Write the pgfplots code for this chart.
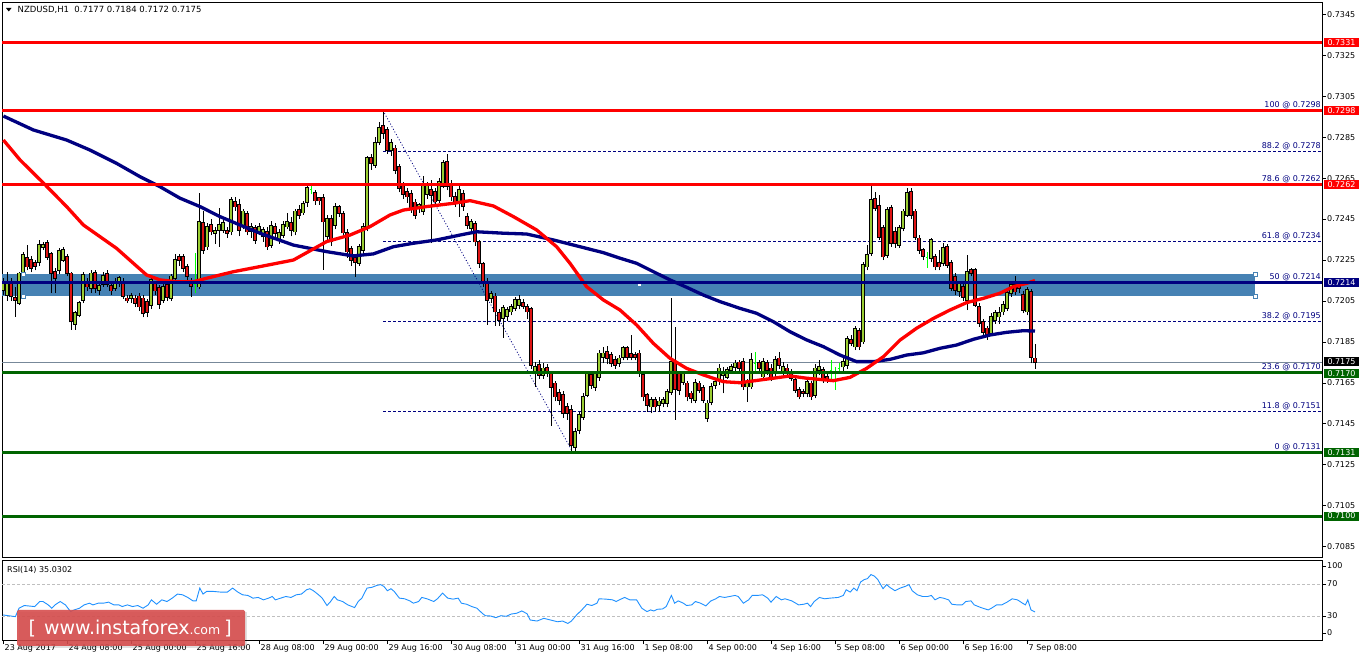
\documentclass[border=0pt]{standalone}
\usepackage{pgfplots}
\pgfplotsset{compat=1.18}
\usepackage{pgfplotstable}
\usepackage{fontspec}
\setmainfont{DejaVu Sans}

\definecolor{mtred}{RGB}{255,0,0}
\definecolor{mtnavy}{RGB}{0,0,128}
\definecolor{mtgreen}{RGB}{0,100,0}
\definecolor{bull}{RGB}{154,205,50}
\definecolor{bear}{RGB}{222,20,20}
\definecolor{doji}{RGB}{0,255,0}
\definecolor{band}{RGB}{70,130,180}
\definecolor{pricegray}{RGB}{119,136,153}
\definecolor{rsiblue}{RGB}{30,144,255}
\definecolor{wmred}{RGB}{214,78,78}

\newcommand{\sm}{\fontsize{8bp}{9.6bp}\selectfont}

% NZDUSD H1 candles: index, open, high, low, close
\pgfplotstableread{
i o h l c
0 0.72104 0.72160 0.72080 0.72137
1 0.72080 0.72190 0.72050 0.72140
2 0.72145 0.72160 0.72050 0.72072
3 0.72065 0.72120 0.71974 0.72055
4 0.72040 0.72190 0.72030 0.72185
5 0.72185 0.72290 0.72170 0.72275
6 0.72259 0.72324 0.72200 0.72218
7 0.72250 0.72270 0.72190 0.72210
8 0.72235 0.72250 0.72200 0.72222
9 0.72238 0.72348 0.72220 0.72324
10 0.72313 0.72340 0.72300 0.72324
11 0.72332 0.72348 0.72250 0.72264
12 0.72280 0.72290 0.72088 0.72185
13 0.72194 0.72210 0.72088 0.72161
14 0.72199 0.72310 0.72180 0.72295
15 0.72251 0.72316 0.72240 0.72300
16 0.72267 0.72280 0.72170 0.72185
17 0.72185 0.72190 0.71910 0.71950
18 0.71938 0.72000 0.71910 0.71990
19 0.71982 0.72050 0.71970 0.72039
20 0.72055 0.72190 0.72040 0.72177
21 0.72137 0.72160 0.72100 0.72120
22 0.72112 0.72200 0.72090 0.72185
23 0.72189 0.72200 0.72090 0.72112
24 0.72104 0.72140 0.72080 0.72124
25 0.72132 0.72190 0.72120 0.72172
26 0.72182 0.72200 0.72120 0.72134
27 0.72124 0.72140 0.72080 0.72101
28 0.72112 0.72160 0.72100 0.72145
29 0.72137 0.72170 0.72120 0.72161
30 0.72145 0.72160 0.72060 0.72075
31 0.72063 0.72080 0.72040 0.72052
32 0.72063 0.72090 0.72040 0.72075
33 0.72063 0.72080 0.72020 0.72040
34 0.72072 0.72090 0.72000 0.72023
35 0.72063 0.72080 0.71970 0.71990
36 0.72047 0.72060 0.71970 0.71997
37 0.72031 0.72170 0.72010 0.72153
38 0.72137 0.72150 0.72080 0.72101
39 0.72112 0.72130 0.72010 0.72036
40 0.72055 0.72140 0.72040 0.72120
41 0.72130 0.72150 0.72050 0.72070
42 0.72063 0.72180 0.72050 0.72170
43 0.72161 0.72280 0.72150 0.72251
44 0.72267 0.72280 0.72220 0.72251
45 0.72264 0.72280 0.72190 0.72210
46 0.72218 0.72230 0.72150 0.72170
47 0.72140 0.72160 0.72070 0.72124
48 0.72133 0.72283 0.72090 0.72133
49 0.72120 0.72576 0.72110 0.72438
50 0.72430 0.72490 0.72280 0.72300
51 0.72316 0.72430 0.72300 0.72413
52 0.72422 0.72450 0.72370 0.72389
53 0.72381 0.72410 0.72330 0.72392
54 0.72397 0.72503 0.72316 0.72422
55 0.72397 0.72450 0.72380 0.72430
56 0.72394 0.72410 0.72360 0.72381
57 0.72389 0.72560 0.72370 0.72544
58 0.72535 0.72560 0.72490 0.72511
59 0.72519 0.72547 0.72365 0.72397
60 0.72422 0.72500 0.72400 0.72487
61 0.72475 0.72490 0.72370 0.72389
62 0.72390 0.72430 0.72360 0.72410
63 0.72405 0.72420 0.72330 0.72348
64 0.72384 0.72430 0.72370 0.72410
65 0.72365 0.72410 0.72340 0.72397
66 0.72389 0.72410 0.72300 0.72316
67 0.72324 0.72440 0.72310 0.72417
68 0.72413 0.72430 0.72360 0.72381
69 0.72352 0.72400 0.72330 0.72381
70 0.72373 0.72440 0.72360 0.72422
71 0.72413 0.72480 0.72400 0.72438
72 0.72430 0.72460 0.72365 0.72397
73 0.72389 0.72500 0.72370 0.72487
74 0.72495 0.72520 0.72450 0.72470
75 0.72482 0.72540 0.72470 0.72524
76 0.72531 0.72620 0.72510 0.72601
77 0.72595 0.72615 0.72570 0.72595
78 0.72579 0.72590 0.72520 0.72540
79 0.72552 0.72560 0.72520 0.72540
80 0.72552 0.72570 0.72202 0.72438
81 0.72365 0.72470 0.72340 0.72449
82 0.72449 0.72470 0.72320 0.72340
83 0.72422 0.72530 0.72400 0.72511
84 0.72508 0.72520 0.72460 0.72479
85 0.72475 0.72490 0.72360 0.72384
86 0.72381 0.72400 0.72260 0.72291
87 0.72303 0.72320 0.72220 0.72251
88 0.72259 0.72270 0.72169 0.72238
89 0.72234 0.72330 0.72220 0.72316
90 0.72300 0.72430 0.72280 0.72413
91 0.72405 0.72760 0.72390 0.72747
92 0.72747 0.72770 0.72690 0.72723
93 0.72715 0.72850 0.72700 0.72820
94 0.72824 0.72925 0.72810 0.72894
95 0.72905 0.72983 0.72840 0.72869
96 0.72885 0.72900 0.72770 0.72788
97 0.72788 0.72840 0.72760 0.72820
98 0.72795 0.72810 0.72670 0.72690
99 0.72706 0.72720 0.72580 0.72601
100 0.72612 0.72630 0.72550 0.72573
101 0.72584 0.72600 0.72530 0.72560
102 0.72573 0.72590 0.72480 0.72498
103 0.72531 0.72550 0.72450 0.72470
104 0.72503 0.72530 0.72480 0.72518
105 0.72487 0.72660 0.72470 0.72612
106 0.72573 0.72630 0.72550 0.72612
107 0.72592 0.72640 0.72332 0.72568
108 0.72584 0.72600 0.72510 0.72535
109 0.72544 0.72650 0.72530 0.72633
110 0.72612 0.72740 0.72600 0.72723
111 0.72731 0.72770 0.72590 0.72612
112 0.72612 0.72640 0.72540 0.72560
113 0.72560 0.72580 0.72510 0.72535
114 0.72540 0.72610 0.72460 0.72592
115 0.72573 0.72590 0.72490 0.72514
116 0.72462 0.72480 0.72400 0.72422
117 0.72405 0.72450 0.72380 0.72438
118 0.72426 0.72440 0.72320 0.72340
119 0.72340 0.72350 0.72210 0.72234
120 0.72231 0.72240 0.72120 0.72145
121 0.72145 0.72160 0.71933 0.72055
122 0.72063 0.72100 0.72040 0.72085
123 0.72072 0.72090 0.71930 0.71998
124 0.71990 0.72010 0.71930 0.71958
125 0.71966 0.72030 0.71870 0.72015
126 0.71977 0.72020 0.71950 0.72006
127 0.71998 0.72035 0.71980 0.72020
128 0.72015 0.72070 0.72000 0.72055
129 0.72031 0.72080 0.72010 0.72055
130 0.72039 0.72060 0.72010 0.72026
131 0.72020 0.72035 0.71960 0.71998
132 0.72011 0.72020 0.71720 0.71737
133 0.71696 0.71750 0.71631 0.71729
134 0.71737 0.71760 0.71670 0.71688
135 0.71688 0.71745 0.71670 0.71721
136 0.71725 0.71740 0.71680 0.71705
137 0.71693 0.71710 0.71440 0.71631
138 0.71648 0.71660 0.71560 0.71583
139 0.71602 0.71620 0.71540 0.71566
140 0.71591 0.71610 0.71480 0.71501
141 0.71534 0.71550 0.71470 0.71501
142 0.71520 0.71540 0.71310 0.71347
143 0.71338 0.71430 0.71310 0.71412
144 0.71420 0.71510 0.71400 0.71493
145 0.71485 0.71600 0.71470 0.71583
146 0.71591 0.71710 0.71580 0.71696
147 0.71688 0.71710 0.71620 0.71640
148 0.71631 0.71710 0.71610 0.71696
149 0.71680 0.71810 0.71660 0.71794
150 0.71778 0.71827 0.71745 0.71794
151 0.71802 0.71830 0.71740 0.71770
152 0.71786 0.71800 0.71730 0.71745
153 0.71762 0.71780 0.71720 0.71737
154 0.71745 0.71785 0.71730 0.71770
155 0.71778 0.71830 0.71760 0.71819
156 0.71819 0.71830 0.71760 0.71778
157 0.71790 0.71884 0.71760 0.71778
158 0.71786 0.71800 0.71760 0.71775
159 0.71794 0.71810 0.71680 0.71696
160 0.71688 0.71700 0.71560 0.71583
161 0.71591 0.71600 0.71509 0.71542
162 0.71534 0.71580 0.71501 0.71566
163 0.71566 0.71580 0.71510 0.71534
164 0.71542 0.71580 0.71510 0.71560
165 0.71550 0.71580 0.71530 0.71566
166 0.71550 0.71620 0.71530 0.71607
167 0.71607 0.72063 0.71590 0.71753
168 0.71750 0.71924 0.71469 0.71620
169 0.71696 0.71710 0.71590 0.71615
170 0.71656 0.71710 0.71640 0.71696
171 0.71648 0.71660 0.71560 0.71583
172 0.71599 0.71610 0.71550 0.71575
173 0.71566 0.71670 0.71550 0.71652
174 0.71648 0.71660 0.71600 0.71615
175 0.71627 0.71640 0.71550 0.71566
176 0.71477 0.71566 0.71460 0.71550
177 0.71558 0.71650 0.71540 0.71631
178 0.71640 0.71670 0.71620 0.71656
179 0.71664 0.71740 0.71640 0.71721
180 0.71688 0.71730 0.71599 0.71705
181 0.71680 0.71730 0.71670 0.71713
182 0.71713 0.71740 0.71700 0.71729
183 0.71729 0.71760 0.71710 0.71745
184 0.71750 0.71760 0.71700 0.71721
185 0.71754 0.71770 0.71616 0.71632
186 0.71632 0.71670 0.71559 0.71648
187 0.71632 0.71795 0.71620 0.71762
188 0.71746 0.71800 0.71710 0.71746
189 0.71746 0.71760 0.71700 0.71721
190 0.71681 0.71770 0.71660 0.71754
191 0.71746 0.71760 0.71690 0.71713
192 0.71721 0.71740 0.71660 0.71673
193 0.71697 0.71780 0.71680 0.71762
194 0.71770 0.71800 0.71720 0.71738
195 0.71705 0.71750 0.71690 0.71730
196 0.71721 0.71740 0.71680 0.71697
197 0.71705 0.71720 0.71660 0.71673
198 0.71664 0.71680 0.71600 0.71616
199 0.71616 0.71630 0.71570 0.71583
200 0.71608 0.71620 0.71580 0.71599
201 0.71599 0.71670 0.71580 0.71656
202 0.71648 0.71660 0.71567 0.71583
203 0.71591 0.71740 0.71575 0.71721
204 0.71713 0.71762 0.71690 0.71729
205 0.71713 0.71730 0.71650 0.71664
206 0.71681 0.71700 0.71650 0.71664
207 0.71713 0.71762 0.71664 0.71713
208 0.71697 0.71730 0.71616 0.71697
209 0.71721 0.71746 0.71697 0.71721
210 0.71730 0.71770 0.71710 0.71754
211 0.71738 0.71880 0.71720 0.71863
212 0.71860 0.71884 0.71830 0.71844
213 0.71827 0.71930 0.71810 0.71912
214 0.71905 0.71920 0.71810 0.71827
215 0.71852 0.72240 0.71840 0.72226
216 0.72218 0.72324 0.72200 0.72275
217 0.72283 0.72617 0.72270 0.72543
218 0.72547 0.72584 0.72490 0.72503
219 0.72514 0.72568 0.72350 0.72364
220 0.72405 0.72420 0.72250 0.72267
221 0.72275 0.72510 0.72260 0.72495
222 0.72503 0.72520 0.72316 0.72332
223 0.72389 0.72410 0.72310 0.72332
224 0.72324 0.72420 0.72310 0.72405
225 0.72405 0.72500 0.72390 0.72487
226 0.72470 0.72600 0.72460 0.72576
227 0.72584 0.72600 0.72450 0.72470
228 0.72487 0.72500 0.72350 0.72364
229 0.72356 0.72370 0.72280 0.72299
230 0.72299 0.72310 0.72250 0.72270
231 0.72264 0.72290 0.72210 0.72264
232 0.72259 0.72360 0.72240 0.72348
233 0.72267 0.72280 0.72200 0.72218
234 0.72234 0.72300 0.72200 0.72218
235 0.72234 0.72332 0.72220 0.72308
236 0.72316 0.72330 0.72210 0.72226
237 0.72234 0.72250 0.72100 0.72112
238 0.72169 0.72185 0.72080 0.72104
239 0.72100 0.72150 0.72070 0.72137
240 0.72120 0.72140 0.72050 0.72071
241 0.72055 0.72275 0.72006 0.72194
242 0.72202 0.72210 0.72170 0.72185
243 0.72202 0.72210 0.72020 0.72031
244 0.72023 0.72040 0.71925 0.71941
245 0.71949 0.71960 0.71884 0.71900
246 0.71916 0.71930 0.71860 0.71884
247 0.71892 0.71990 0.71880 0.71974
248 0.71957 0.72006 0.71940 0.71990
249 0.71974 0.72023 0.71940 0.71990
250 0.71998 0.72050 0.71980 0.72031
251 0.72015 0.72104 0.72000 0.72088
252 0.72088 0.72145 0.72070 0.72128
253 0.72128 0.72170 0.72080 0.72096
254 0.72137 0.72150 0.72090 0.72112
255 0.72080 0.72100 0.71990 0.72006
256 0.71998 0.72120 0.71980 0.72104
257 0.72093 0.72110 0.71746 0.71778
258 0.71770 0.71840 0.71720 0.71750
}\candles

\begin{document}
\begin{tikzpicture}[x=1bp,y=1bp]

% ---------------- price panel ----------------
\begin{axis}[
  at={(2bp,104bp)}, anchor=south west,
  width=1320bp, height=555bp, scale only axis,
  xmin=-0.25, xmax=329.75, ymin=0.7080, ymax=0.7351,
  axis line style={black, line width=0.8bp},
  xtick=\empty,
  ytick={0.7085,0.7105,0.7125,0.7145,0.7165,0.7185,0.7205,0.7225,0.7245,0.7265,0.7285,0.7305,0.7325,0.7345},
  scaled y ticks=false,
  ytick pos=right, yticklabel pos=right, ytick align=outside,
  major tick length=4bp,
  tick style={black, line width=0.8bp},
  yticklabel style={font=\sm, anchor=west, inner sep=0pt, xshift=1bp},
  y tick label style={/pgf/number format/.cd, fixed, fixed zerofill, precision=4, assume math mode=true},
]
% rectangle zone
\fill[band] (axis cs:-0.25,0.72074) rectangle (axis cs:313,0.72182);

% fibonacci grid
\addplot[mtnavy, line width=0.8bp, dash pattern=on 3bp off 2bp, forget plot] coordinates {(95,0.7278) (329.75,0.7278)};
\addplot[mtnavy, line width=0.8bp, dash pattern=on 3bp off 2bp, forget plot] coordinates {(95,0.7234) (329.75,0.7234)};
\addplot[mtnavy, line width=0.8bp, dash pattern=on 3bp off 2bp, forget plot] coordinates {(95,0.7195) (329.75,0.7195)};
\addplot[mtnavy, line width=0.8bp, dash pattern=on 3bp off 2bp, forget plot] coordinates {(95,0.7151) (329.75,0.7151)};
\addplot[mtnavy, line width=0.8bp, dash pattern=on 1bp off 2bp, forget plot] coordinates {(95,0.7298) (142.5,0.7131)};

% bid line
\addplot[pricegray, line width=0.8bp, forget plot] coordinates {(-0.25,0.7175) (329.75,0.7175)};

% candles: wicks, body frames, bodies
\addplot[black, line width=0.8bp, restrict expr to domain={abs(\thisrow{c}-\thisrow{o})}{0.00001:1},
  quiver={u=0, v={\thisrow{h}-\thisrow{l}}}] table[x=i, y=l] {\candles};
\addplot[black, line width=3.2bp, restrict expr to domain={abs(\thisrow{c}-\thisrow{o})}{0.00001:1},
  quiver={u=0, v={abs(\thisrow{c}-\thisrow{o})+0.00008}}]
  table[x=i, y expr={min(\thisrow{o},\thisrow{c})-0.00004}] {\candles};
\addplot[bull, line width=1.5bp, restrict expr to domain={\thisrow{c}-\thisrow{o}}{0.00001:1},
  quiver={u=0, v={\thisrow{c}-\thisrow{o}}}] table[x=i, y=o] {\candles};
\addplot[bear, line width=1.5bp, restrict expr to domain={\thisrow{o}-\thisrow{c}}{0.00001:1},
  quiver={u=0, v={\thisrow{c}-\thisrow{o}}}] table[x=i, y=o] {\candles};
% doji crosses
\addplot[doji, line width=0.8bp, restrict expr to domain={abs(\thisrow{c}-\thisrow{o})}{0:0.000005},
  quiver={u=0, v={\thisrow{h}-\thisrow{l}}}] table[x=i, y=l] {\candles};
\addplot[doji, line width=0.8bp, restrict expr to domain={abs(\thisrow{c}-\thisrow{o})}{0:0.000005},
  quiver={u=0.7, v=0}] table[x expr={\thisrow{i}-0.35}, y=o] {\candles};

% moving averages
\addplot[mtnavy, line width=3.3bp] coordinates {
(0.1,0.72953) (7.6,0.72885) (15.9,0.72836) (21.75,0.72787) (28.4,0.72722) (34.25,0.72657)
(39.25,0.72608) (44.25,0.72552) (49.25,0.72511) (54.25,0.72462) (59.25,0.72421) (64.25,0.72381)
(72.6,0.72323) (80.9,0.72291) (87.6,0.72270) (92.6,0.72280) (97.6,0.72315) (102.6,0.72332)
(108.4,0.72348) (114.25,0.72372) (118.4,0.72388) (125.1,0.72381) (130.9,0.72377) (137.6,0.72348)
(144.25,0.72315) (150.1,0.72286) (154.25,0.72259) (158.4,0.72234) (162.6,0.72193) (166.75,0.72153)
(170.9,0.72117) (175.1,0.72079) (179.25,0.72047) (184.25,0.72014) (188.4,0.71990) (192.6,0.71949)
(196.75,0.71900) (200.9,0.71860) (205.1,0.71827) (209.25,0.71786) (213.4,0.71754) (217.6,0.71754)
(221.75,0.71765) (225.9,0.71786) (230.1,0.71797) (234.25,0.71819) (238.4,0.71835) (242.6,0.71863)
(246.75,0.71884) (250.9,0.71897) (255.1,0.71905) (258,0.71903)};
\addplot[mtred, line width=3.3bp] coordinates {
(0.1,0.72836) (4.25,0.72739) (10.1,0.72626) (15.9,0.72511) (20.1,0.72421) (24.25,0.72364)
(28.4,0.72307) (32.6,0.72234) (35.9,0.72177) (39.25,0.72153) (43.4,0.72144) (47.6,0.72144)
(50.9,0.72161) (57.6,0.72193) (64.25,0.72218) (72.6,0.72250) (80.9,0.72340) (86.75,0.72372)
(91.75,0.72413) (96.75,0.72470) (100.1,0.72494) (105.9,0.72511) (112.6,0.72527) (116.75,0.72540)
(122.6,0.72514) (127.6,0.72462) (133.4,0.72397) (138.4,0.72315) (141.75,0.72234) (145.9,0.72120)
(150.1,0.72055) (154.25,0.72006) (158.4,0.71933) (162.6,0.71843) (166.75,0.71770) (170.9,0.71721)
(175.1,0.71689) (180.1,0.71656) (184.25,0.71651) (192.6,0.71673) (196.75,0.71684) (200.9,0.71673)
(207.6,0.71661) (211.75,0.71677) (215.9,0.71721) (220.1,0.71778) (224.25,0.71859) (228.4,0.71917)
(232.6,0.71965) (236.75,0.72006) (240.9,0.72042) (245.1,0.72063) (249.25,0.72088) (252.6,0.72120)
(255.9,0.72136) (258,0.72150)};

% support / resistance lines
\addplot[mtred, line width=3bp, forget plot] coordinates {(-0.25,0.7331) (329.75,0.7331)};
\addplot[mtred, line width=3bp, forget plot] coordinates {(-0.25,0.7298) (329.75,0.7298)};
\addplot[mtred, line width=3bp, forget plot] coordinates {(-0.25,0.7262) (329.75,0.7262)};
\addplot[mtnavy, line width=3bp, forget plot] coordinates {(-0.25,0.7214) (329.75,0.7214)};
\addplot[mtgreen, line width=3bp, forget plot] coordinates {(-0.25,0.7170) (329.75,0.7170)};
\addplot[mtgreen, line width=3bp, forget plot] coordinates {(-0.25,0.7131) (329.75,0.7131)};
\addplot[mtgreen, line width=3bp, forget plot] coordinates {(-0.25,0.7100) (329.75,0.7100)};

% rectangle handles
\foreach \hx/\hy in {5/0.72182, 5/0.72074, 313/0.72182, 313/0.72074}{
  \edef\tmp{\noexpand\node[draw=band, fill=white, line width=0.8bp, inner sep=0pt, minimum size=4bp] at (axis cs:\hx,\hy) {};}\tmp
}
\node[fill=white, inner sep=0pt, minimum size=2.5bp] at (axis cs:159.1,0.72127) {};

% fibonacci labels
\tikzset{fib/.style={font=\sm, text=mtnavy, anchor=base east, inner sep=0pt, yshift=2.8bp}}
\node[fib] at (axis cs:329.5,0.7298) {100 @ 0.7298};
\node[fib] at (axis cs:329.5,0.7278) {88.2 @ 0.7278};
\node[fib] at (axis cs:329.5,0.7262) {78.6 @ 0.7262};
\node[fib] at (axis cs:329.5,0.7234) {61.8 @ 0.7234};
\node[fib] at (axis cs:329.5,0.7214) {50 @ 0.7214};
\node[fib] at (axis cs:329.5,0.7195) {38.2 @ 0.7195};
\node[fib] at (axis cs:329.5,0.7170) {23.6 @ 0.7170};
\node[fib] at (axis cs:329.5,0.7151) {11.8 @ 0.7151};
\node[fib] at (axis cs:329.5,0.7131) {0 @ 0.7131};

% anchors for price boxes
\coordinate (p7331) at (axis cs:329.75,0.7331);
\coordinate (p7298) at (axis cs:329.75,0.7298);
\coordinate (p7262) at (axis cs:329.75,0.7262);
\coordinate (p7214) at (axis cs:329.75,0.7214);
\coordinate (p7175) at (axis cs:329.75,0.7175);
\coordinate (p7170) at (axis cs:329.75,0.7170);
\coordinate (p7131) at (axis cs:329.75,0.7131);
\coordinate (p7100) at (axis cs:329.75,0.7100);
\end{axis}

% ---------------- RSI panel ----------------
\begin{axis}[
  at={(2bp,21bp)}, anchor=south west,
  width=1320bp, height=80bp, scale only axis,
  xmin=-0.25, xmax=329.75, ymin=0, ymax=100,
  axis line style={black, line width=0.8bp},
  xtick={0,16,...,256},
  xticklabels={23 Aug 2017, 24 Aug 08:00, 25 Aug 00:00, 25 Aug 16:00, 28 Aug 08:00, 29 Aug 00:00,
    29 Aug 16:00, 30 Aug 08:00, 31 Aug 00:00, 31 Aug 16:00, 1 Sep 08:00, 4 Sep 00:00,
    4 Sep 16:00, 5 Sep 08:00, 6 Sep 00:00, 6 Sep 16:00, 7 Sep 08:00},
  xtick pos=bottom, xtick align=outside,
  xticklabel style={font=\sm, anchor=north west, inner sep=0pt, xshift=1.5bp},
  ytick={8.75,30,70,92.5}, yticklabels={0,30,70,100},
  ytick pos=right, yticklabel pos=right, ytick align=outside,
  yticklabel style={font=\sm, anchor=west, inner sep=0pt, xshift=1bp},
  major tick length=4bp,
  tick style={black, line width=0.8bp},
]
\addplot[black!25, line width=0.8bp, dash pattern=on 3bp off 2bp, forget plot] coordinates {(-0.25,70) (329.75,70)};
\addplot[black!25, line width=0.8bp, dash pattern=on 3bp off 2bp, forget plot] coordinates {(-0.25,30) (329.75,30)};
\addplot[rsiblue, line width=0.9bp] coordinates {
(0,31.3) (3.1,29.2) (4,39.7) (5.3,43.1) (7.9,41.8) (9.2,48.1) (10,48.1) (11.3,43.9) (12.2,39.7) (13,43.9)
(14.3,48.1) (15.6,43.9) (16.9,35.5) (17.8,37.6) (19.1,39.7) (20.3,43.9) (21.6,46) (22.5,43.9) (23.8,46)
(25.1,46) (26.4,47.3) (27.7,43.9) (29,43.9) (29.8,41.8) (31.1,43.9) (32.4,41.8) (33.7,43.1) (35,39.7)
(36.3,43.9) (37.1,50.2) (38.4,44.7) (39.7,50.2) (41,48.1) (42.3,52.3) (43.6,57.4) (44.9,56.5) (46.2,53.2)
(47.5,48.9) (48.3,48.9) (49.2,64.9) (50,57.4) (50.9,60.7) (52.6,60.7) (54.4,59.9) (56.1,59.9) (57.4,64.9)
(58.7,59.9) (59.9,56.5) (61.2,55.7) (62.5,52.3) (63.8,53.2) (65.1,50.2) (66.4,52.3) (67.3,54.4) (68.1,50.2)
(69.4,52.3) (70.7,54.4) (72,53.2) (73.3,56.5) (74.6,57.4) (75.9,62.8) (76.7,64.1) (77.6,61.6) (78.9,56.5)
(79.8,52.3) (81,43.1) (81.9,48.1) (82.8,54.4) (83.6,50.2) (84.9,48.1) (86.2,43.9) (87.9,40.5) (88.8,48.1)
(89.7,52.3) (91,64.9) (92.2,65.8) (93.5,68.3) (94.4,69.2) (95.2,67.1) (96.1,61.6) (97,64.1) (97.8,60.7)
(99.1,52.3) (100.4,51.5) (101.7,48.9) (102.6,46) (103.9,48.1) (104.7,53.2) (106,51.5) (107.7,48.1)
(108.6,51.5) (109.9,58.6) (111.2,52.3) (112.5,51.1) (113.8,52.3) (114.6,46) (115.9,44.7) (117.2,41.8)
(118.5,39.7) (119.8,33.4) (120.6,30.4) (121.9,30) (123.2,27.9) (124.5,30.4) (125.8,29.6) (127.1,32.5)
(128.4,33.4) (129.7,36.3) (131,32.9) (131.8,25) (133.5,23.7) (135.2,27.1) (136.9,25) (138.6,22.8)
(139.9,23.7) (141.2,20.7) (142.1,23.7) (143.4,31.3) (144.7,37.6) (146,44.7) (147.2,43.1) (148.5,46)
(149,51.5) (150.7,51.1) (152.4,50.2) (153.3,48.1) (154.1,50.2) (155.4,53.2) (156.7,50.2) (158.4,50.2)
(159.7,39.7) (161,35.5) (161.9,37.6) (162.7,36.3) (163.6,38.4) (164.9,38.8) (165.8,41.8) (167.1,55.7)
(167.9,46) (168.8,48.9) (170.1,46) (170.9,43.1) (172.2,43.9) (173.1,48.1) (174.4,46) (175.7,42.6)
(177,48.9) (178.2,51.5) (179.1,54.4) (180.4,53.2) (181.7,54.4) (183,55.7) (183.8,54.4) (185.1,46)
(186.4,50.2) (187.3,55.7) (188.6,55.7) (189.9,56.5) (191.2,52.3) (192,47.3) (193.3,54.4) (194.6,50.2)
(195.5,51.5) (197.2,48.9) (198.9,43.9) (200.2,44.7) (201.1,46) (201.9,41.8) (202.8,48.1) (204.1,53.2)
(205.4,51.5) (206.7,52.3) (208.8,53.2) (210.1,55.7) (210.8,62.8) (211.8,59.9) (212.7,64.9) (213.5,61.6)
(214.4,72.5) (215.3,75.5) (216.1,76.7) (217,81.8) (217.9,79.7) (218.7,75.5) (220,64.1) (220.9,69.2)
(221.7,65.8) (223,61.6) (224.3,64.9) (225.6,67.1) (226.5,69.2) (227.3,61.6) (228.6,56.5) (229.9,54.4)
(231.2,54.4) (232.1,55.7) (233,50.2) (234.2,53.2) (235.1,52.3) (236.4,50.2) (237.2,44.7) (238.5,43.9)
(239.8,43.9) (240.7,48.1) (242,48.9) (242.8,43.9) (244.5,40.5) (246.3,37.6) (247.1,39.7) (248.4,43.9)
(249.7,43.9) (251,47.3) (252.3,51.5) (253.6,50.2) (254.9,46) (255.6,43.9) (256.2,50.2) (257,37.6) (258,35.0)};
\end{axis}

% ---------------- price boxes on the scale ----------------
\tikzset{pbox/.style={font=\sm, text=white, inner sep=0pt, minimum width=35bp, minimum height=9bp}}
\node[pbox, fill=mtred]   at ([xshift=19.5bp]p7331) {0.7331};
\node[pbox, fill=mtred]   at ([xshift=19.5bp]p7298) {0.7298};
\node[pbox, fill=mtred]   at ([xshift=19.5bp]p7262) {0.7262};
\node[pbox, fill=mtnavy]  at ([xshift=19.5bp]p7214) {0.7214};
\node[pbox, fill=black]   at ([xshift=19.5bp,yshift=1bp]p7175) {0.7175};
\node[pbox, fill=mtgreen] at ([xshift=19.5bp,yshift=-0.5bp]p7170) {0.7170};
\node[pbox, fill=mtgreen] at ([xshift=19.5bp]p7131) {0.7131};
\node[pbox, fill=mtgreen] at ([xshift=19.5bp]p7100) {0.7100};

% ---------------- headers ----------------
\fill (6,653) -- (11.5,653) -- (8.75,649.5) -- cycle;
\node[font=\fontsize{8.5bp}{10bp}\selectfont, anchor=west, inner sep=0pt] at (17.5,651) {NZDUSD,H1\ \ 0.7177 0.7184 0.7172 0.7175};
\node[font=\sm, anchor=west, inner sep=0pt] at (7,91.5) {RSI(14) 35.0302};

% ---------------- watermark ----------------
\fill[black, opacity=0.12] (19,13) rectangle (247,49);
\fill[wmred, opacity=0.9, rounded corners=1.5bp] (17,15) rectangle (245,51);
\node[anchor=base west, inner sep=0pt, text=white] at (28.5,26)
  {\fontsize{19bp}{20bp}\selectfont [\hspace{8bp}www.instaforex{\fontsize{12.5bp}{14bp}\selectfont .com}\hspace{4bp}]};

% fixed page frame
\pgfresetboundingbox
\path[use as bounding box] (0,0) rectangle (1362,661);
\end{tikzpicture}
\end{document}
